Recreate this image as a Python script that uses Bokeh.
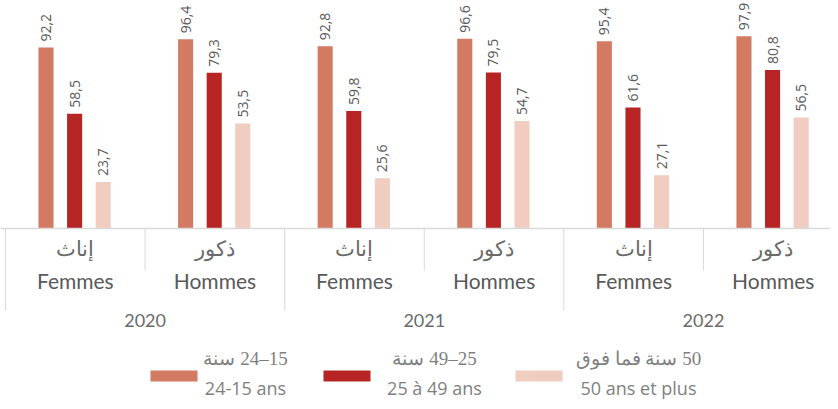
import math
from bokeh.plotting import figure
from bokeh.models import FactorRange, Range1d, Span, ColumnDataSource
from bokeh.transform import dodge
from bokeh.layouts import column
from bokeh.core.properties import value
from bokeh.embed import file_html
from bokeh.resources import INLINE

# ---------------- data ----------------
years = ["2020", "2021", "2022"]
sexes_fr = ["Femmes", "Hommes"]
sexes_ar = ["إناث", "ذكور"]
series_fr = ["24-15 ans", "25 à 49 ans", "50 ans et plus"]
series_ar = ["\u200f15–24 سنة", "\u200f25–49 سنة", "\u200f50 سنة فما فوق"]
age_15_24 = [92.2, 96.4, 92.8, 96.6, 95.4, 97.9]
age_25_49 = [58.5, 79.3, 59.8, 79.5, 61.6, 80.8]
age_50_plus = [23.7, 53.5, 25.6, 54.7, 27.1, 56.5]

# ---------------- style ----------------
colors = ["#D27B62", "#B62424", "#F0CDC0"]
SHIFT = 0.063            # small horizontal shift of the whole band layout
offsets = [-0.21 + SHIFT, -0.005 + SHIFT, 0.2 + SHIFT]
BAR_W = 0.108
W, H = 830, 340
PX_PER_UNIT = 1.963
BASE_PX = 228
GRID = "#D9D9D9"

factors = [(y, s) for y in years for s in sexes_fr]

def fmt(vals):
    return [f"{v:.1f}".replace(".", ",") for v in vals]

src = ColumnDataSource(dict(
    x=factors,
    ar=[sexes_ar[sexes_fr.index(s)] for (_, s) in factors],
    fr=[s for (_, s) in factors],
    v0=age_15_24, v1=age_25_49, v2=age_50_plus,
    l0=fmt(age_15_24), l1=fmt(age_25_49), l2=fmt(age_50_plus),
    sep=[(82 if s == sexes_fr[0] else 42) / -PX_PER_UNIT for (_, s) in factors],
))

xr = FactorRange(factors=factors, range_padding=-0.027, range_padding_units="absolute",
                 group_padding=0, factor_padding=0)
yr = Range1d(-(H - BASE_PX) / PX_PER_UNIT, BASE_PX / PX_PER_UNIT)

p = figure(width=W, height=H, x_range=xr, y_range=yr, output_backend="svg",
           toolbar_location=None, x_axis_location=None, y_axis_location=None,
           min_border=0, outline_line_color=None)
p.xgrid.visible = False
p.ygrid.visible = False

for i in range(3):
    p.vbar(x=dodge("x", offsets[i], range=xr), top=f"v{i}", width=BAR_W, bottom=0,
           source=src, fill_color=colors[i], line_color=None)
    p.text(x=dodge("x", offsets[i], range=xr), y=f"v{i}", text=f"l{i}", source=src,
           angle=math.pi / 2, text_align="left", text_baseline="middle",
           y_offset=-6, text_font=value("Open Sans"), text_font_size="14px",
           text_color="#595959")

# baseline + separators
p.add_layout(Span(location=0, dimension="width", line_color=GRID, line_width=1.5))
p.segment(x0=dodge("x", -0.5 + SHIFT, range=xr), y0=0,
          x1=dodge("x", -0.5 + SHIFT, range=xr), y1="sep",
          source=src, line_color=GRID, line_width=1)

# category labels
p.text(x=dodge("x", SHIFT, range=xr), y=0, text="ar", source=src, y_offset=20,
       text_align="center", text_baseline="middle", text_font=value("Liberation Serif"),
       text_font_size="21px", text_color="#6A6A6A")
p.text(x=dodge("x", SHIFT, range=xr), y=0, text="fr", source=src, y_offset=52,
       text_align="center", text_baseline="middle", text_font=value("Lato"),
       text_font_size="21px", text_color="#595959")

ysrc = ColumnDataSource(dict(x=[(y, sexes_fr[1]) for y in years], t=years))
p.text(x=dodge("x", -0.5 + SHIFT, range=xr), y=0, text="t", source=ysrc, y_offset=92,
       text_align="center", text_baseline="middle", text_font=value("Lato"),
       text_font_size="18px", text_color="#6B6B6B")

# ---------------- legend ----------------
LH = 61
lg = figure(width=W, height=LH, x_range=Range1d(0, W), y_range=Range1d(H + LH, H),
            output_backend="svg", toolbar_location=None, x_axis_location=None,
            y_axis_location=None, min_border=0, outline_line_color=None)
lg.xgrid.visible = False
lg.ygrid.visible = False
sw_x = [173.5, 346.5, 538.5]
tx = [245, 434, 638]
lg.rect(x=sw_x, y=375.5, width=47, height=11, fill_color=colors, line_color=None)
lg.text(x=tx, y=358, text=series_ar, text_align="center", text_baseline="middle",
        text_font=value("Liberation Serif"), text_font_size="19px", text_color="#7F7F7F")
lg.text(x=tx, y=387, text=series_fr, text_align="center", text_baseline="middle",
        text_font=value("Open Sans"), text_font_size="18px", text_color="#7F7F7F")

layout = column(p, lg, spacing=0)
open("out.html", "w").write(file_html(layout, INLINE))
